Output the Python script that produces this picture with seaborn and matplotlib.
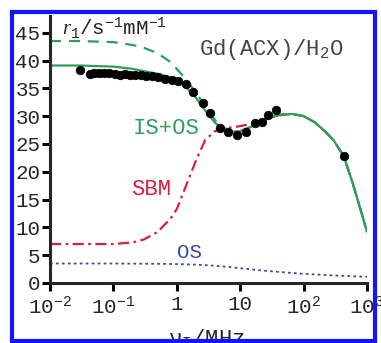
import numpy as np
import pandas as pd
import matplotlib
matplotlib.use("Agg")
import matplotlib.pyplot as plt
import seaborn as sns
from matplotlib.patches import Rectangle
from matplotlib.ticker import FixedLocator, FixedFormatter, NullLocator

# ---- data ----
freq_fit = [0.01, 0.03, 0.1, 0.2, 0.3, 0.5, 0.8, 1.0, 1.4, 2.0, 2.8, 4.0, 5.5, 7.5,
            10, 15, 20, 30, 45, 65, 100, 150, 220, 300, 430, 600, 800, 1000]
r_isos_solid = [39.1, 39.1, 38.9, 38.5, 38.1, 37.6, 37.0, 36.4, 35.2, 33.3, 31.0, 28.8, 27.6, 27.2,
                27.3, 28.1, 28.9, 29.8, 30.3, 30.4, 30.0, 28.9, 27.2, 25.6, 22.8, 17.8, 13.0, 9.2]
r_isos_dashed = [43.5, 43.5, 43.3, 42.8, 42.3, 41.3, 39.7, 38.5, 36.6, 34.2, 31.8, 29.3, 27.9, 27.3,
                 27.3, 28.1, 28.9, 29.8, 30.3, 30.4, 30.0, 28.9, 27.2, 25.6, 22.8, 17.8, 13.0, 9.2]
r_sbm = [7.0, 7.0, 7.0, 7.3, 7.8, 9.2, 11.6, 13.3, 17.5, 22.0, 25.7, 27.3, 27.8, 28.0,
         28.2, 28.6, 29.1, 29.8, 30.2, 30.4, 30.0, 28.9, 27.2, 25.6, 22.8, 17.8, 13.0, 9.2]
freq_os = [0.01, 0.1, 0.5, 1.0, 2.0, 4.0, 7.0, 10, 20, 40, 100, 300, 1000]
r_os = [3.5, 3.5, 3.45, 3.4, 3.3, 3.1, 2.85, 2.65, 2.3, 2.0, 1.65, 1.35, 1.1]

freq_exp = [0.030, 0.042, 0.050, 0.060, 0.072, 0.086, 0.106, 0.127, 0.152, 0.183, 0.22,
            0.27, 0.33, 0.40, 0.51, 0.65, 0.83, 1.06, 1.40, 1.82, 2.56, 3.34, 4.8, 6.5,
            8.8, 12.4, 17.1, 21.8, 27.7, 36.7, 426]
r_exp = [38.3, 37.6, 37.7, 37.7, 37.7, 37.8, 37.6, 37.4, 37.6, 37.4, 37.4,
         37.4, 37.2, 37.2, 37.0, 36.7, 36.5, 36.3, 35.7, 34.4, 32.3, 30.6, 27.8, 27.2,
         26.6, 27.2, 28.7, 29.0, 30.2, 31.1, 22.8]

xtick_vals = [1e-2, 1e-1, 1, 10, 1e2, 1e3]
xtick_labels = ["10$^{-2}$", "10$^{-1}$", "1", "10", "10$^{2}$", "10$^{3}$"]
ytick_vals = [0, 5, 10, 15, 20, 25, 30, 35, 40, 45]

# ---- style ----
sns.set_style("ticks")
plt.rcParams['font.family'] = ['Liberation Mono', 'DejaVu Sans']
plt.rcParams['mathtext.fontset'] = 'custom'
plt.rcParams['mathtext.rm'] = 'Liberation Mono'
plt.rcParams['mathtext.it'] = 'Liberation Serif:italic'
plt.rcParams['mathtext.default'] = 'rm'

GREEN = "#2f9e5c"
RED = "#d8203f"
BLUE = "#3a4a9c"

fig = plt.figure(figsize=(3.81, 3.43), dpi=100)
ax = fig.add_axes([50/381, 1 - 283/343, 317/381, (283 - 16)/343])

df_fit = pd.DataFrame({"f": freq_fit, "solid": r_isos_solid, "dashed": r_isos_dashed, "sbm": r_sbm})
df_os = pd.DataFrame({"f": freq_os, "os": r_os})
df_exp = pd.DataFrame({"f": freq_exp, "r": r_exp})

sns.lineplot(data=df_os, x="f", y="os", ax=ax, color=BLUE, lw=1.3, linestyle=(0, (1.5, 1.8)))
sns.lineplot(data=df_fit, x="f", y="sbm", ax=ax, color=RED, lw=1.6, linestyle=(0, (5, 2, 1.2, 2)))
sns.lineplot(data=df_fit, x="f", y="dashed", ax=ax, color=GREEN, lw=1.6, linestyle=(0, (5, 3.5)))
sns.lineplot(data=df_fit, x="f", y="solid", ax=ax, color=GREEN, lw=1.6)
sns.scatterplot(data=df_exp, x="f", y="r", ax=ax, color="black", s=38, edgecolor="black",
                linewidth=0.5, zorder=5)

ax.set_xscale("log")
ax.set_xlim(1e-2, 1e3)
ax.set_ylim(0, 48)
ax.xaxis.set_major_locator(FixedLocator(xtick_vals))
ax.xaxis.set_major_formatter(FixedFormatter(xtick_labels))
ax.xaxis.set_minor_locator(NullLocator())
ax.set_yticks(ytick_vals)
ax.set_xlabel("")
ax.set_ylabel("")
for s in ["top", "right"]:
    ax.spines[s].set_visible(False)
for s in ["left", "bottom"]:
    ax.spines[s].set_linewidth(2.2)
ax.tick_params(axis="both", which="major", length=6, width=2.2, labelsize=15, color="black")
ax.tick_params(axis="y", pad=1)
ax.tick_params(axis="x", pad=3)

# annotations
ax.text(0.0155, 44.6, r"$\mathit{r}_1$/s$^{-1}$mM$^{-1}$", fontsize=15, ha="left", va="baseline")
ax.text(30.6, 42.0, r"Gd(ACX)/H$_2$O", fontsize=16, ha="center", va="center", color="#444444")
ax.text(0.676, 27.7, "IS+OS", fontsize=16, ha="center", va="center", color=GREEN)
ax.text(0.39, 16.8, "SBM", fontsize=16, ha="center", va="center", color=RED)
ax.text(1.61, 5.5, "OS", fontsize=15, ha="center", va="center", color=BLUE)

fig.text(0.543, -0.006, r"ν$_\mathrm{I}$/MHz", fontsize=16, ha="center", va="baseline")

# blue frame
frame = Rectangle((12/381, 2/343), 363/381, (341 - 11.5)/343, transform=fig.transFigure,
                  fill=False, edgecolor="#1414ff", linewidth=3.0, zorder=20)
fig.add_artist(frame)

fig.savefig("out.png", dpi=100)
